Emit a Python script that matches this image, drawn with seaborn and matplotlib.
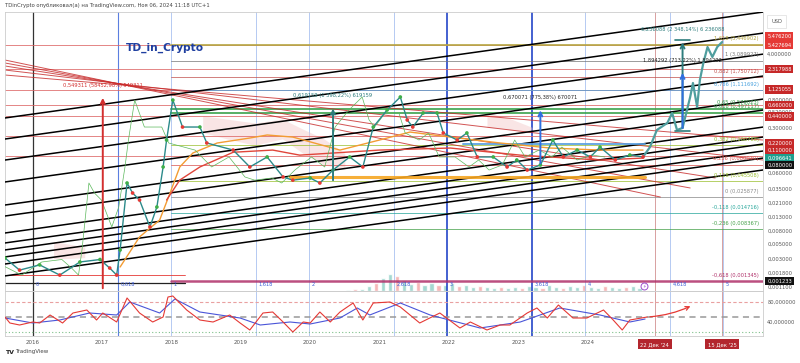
import numpy as np
import pandas as pd
import matplotlib
matplotlib.use("Agg")
import matplotlib.pyplot as plt
import seaborn as sns

# ---- price path (decimal year, USD) ----
price_t = [2015.60, 2015.81, 2016.10, 2016.39, 2016.68, 2016.97, 2017.11, 2017.21, 2017.26,
           2017.36, 2017.44, 2017.54, 2017.69, 2017.79, 2017.88, 2017.93, 2018.02, 2018.16,
           2018.41, 2018.51, 2018.89, 2019.13, 2019.38, 2019.61, 2019.75, 2020.00, 2020.14,
           2020.33, 2020.57, 2020.76, 2020.91, 2021.11, 2021.30, 2021.40, 2021.48, 2021.63,
           2021.83, 2021.92, 2022.12, 2022.26, 2022.41, 2022.64, 2022.84, 2022.98, 2023.13,
           2023.32, 2023.50, 2023.65, 2023.85, 2024.04, 2024.18, 2024.40, 2024.61, 2024.80]
price_p = [0.00306, 0.0020, 0.0024, 0.00168, 0.00266, 0.0029, 0.00215, 0.00168, 0.00405,
           0.0425, 0.0299, 0.0234, 0.0091, 0.0183, 0.0746, 0.192, 0.78, 0.303,
           0.303, 0.173, 0.135, 0.0746, 0.106, 0.0525, 0.047, 0.0507, 0.0425,
           0.067, 0.106, 0.0746, 0.303, 0.551, 0.869, 0.388, 0.303, 0.496,
           0.496, 0.246, 0.192, 0.246, 0.106, 0.106, 0.0746, 0.0953, 0.067,
           0.080, 0.192, 0.106, 0.135, 0.106, 0.150, 0.0953, 0.1136, 0.106]

# projected path (bars pattern) to Dec 2025
proj_t = [2024.80, 2024.90, 2025.00, 2025.15, 2025.22, 2025.29, 2025.37, 2025.48, 2025.52,
          2025.58, 2025.62, 2025.67, 2025.73, 2025.80, 2025.87, 2025.94]
proj_p = [0.106, 0.150, 0.273, 0.349, 0.496, 0.273, 0.293, 0.869, 1.42,
          0.612, 1.58, 2.87, 5.02, 3.54, 5.02, 5.98]

# moving averages
ema_orange_t = [2017.26, 2017.54, 2017.83, 2017.98, 2018.12, 2018.31, 2018.66, 2019.13, 2019.38,
                2019.75, 2020.43, 2021.00, 2021.44, 2022.02, 2022.74, 2023.46, 2024.18, 2024.80]
ema_orange_p = [0.00223, 0.0064, 0.0116, 0.0299, 0.0746, 0.122, 0.173, 0.206, 0.229,
                0.213, 0.135, 0.192, 0.254, 0.213, 0.173, 0.145, 0.135, 0.135]
ema_red_t = [2017.93, 2018.12, 2018.41, 2018.89, 2019.46, 2019.85, 2021.00, 2022.02, 2023.03, 2024.18, 2024.80]
ema_red_p = [0.0234, 0.0471, 0.0746, 0.125, 0.135, 0.113, 0.135, 0.145, 0.113, 0.095, 0.102]

# ichimoku cloud patches
cloud1_t = [2016.30, 2016.50, 2016.75]
cloud1_a = [0.0055, 0.0050, 0.0045]
cloud1_b = [0.0030, 0.0030, 0.0031]
cloud2_t = [2018.45, 2018.80, 2019.20, 2019.60, 2019.90, 2020.20, 2020.50]
cloud2_a = [0.45, 0.40, 0.35, 0.40, 0.28, 0.20, 0.12]
cloud2_b = [0.25, 0.20, 0.16, 0.20, 0.12, 0.08, 0.07]
cloud3_t = [2022.55, 2022.85, 2023.20]
cloud3_a = [0.50, 0.42, 0.30]
cloud3_b = [0.30, 0.28, 0.26]

# volume (relative units)
vol_t = [2020.55, 2020.65, 2020.75, 2020.85, 2020.95, 2021.05, 2021.15, 2021.25, 2021.35, 2021.45,
         2021.55, 2021.65, 2021.75, 2021.85, 2021.95, 2022.05, 2022.15, 2022.25, 2022.35, 2022.45,
         2022.55, 2022.65, 2022.75, 2022.85, 2022.95, 2023.05, 2023.15, 2023.25, 2023.35, 2023.45,
         2023.55, 2023.65, 2023.75, 2023.85, 2023.95, 2024.05, 2024.15, 2024.25, 2024.35, 2024.45,
         2024.55, 2024.65, 2024.75]
vol_v = [1, 2, 2, 5, 9, 14, 18, 16, 12, 8, 10, 7, 9, 6, 7, 9, 5, 6, 4, 5,
         4, 3, 4, 3, 4, 3, 5, 4, 3, 6, 4, 3, 5, 4, 6, 4, 3, 5, 4, 3, 4, 5, 3]

# rising channel lines: price at 2016.0, common slope (ln per year)
channel_p2016 = [0.477, 0.228, 0.109, 0.0505, 0.0225, 0.0153, 0.00843, 0.00594, 0.00465,
                 0.00364, 0.00284, 0.00187]
channel_slope = 0.34

# falling red trend lines: (start price at 2015.6, end year, end price)
red_start_p = [3.18, 2.865, 2.58, 2.24, 1.88]
red_end_t = [2025.05, 2025.48, 2025.84, 2026.53, 2026.53]
red_end_p = [0.0260, 0.0357, 0.0507, 0.0953, 0.192]

# fib retracement
fib_levels = ["1,618", "1", "0,882", "0,786", "0,65", "0,618", "0,382", "0,236", "0,118",
              "0", "-0,118", "-0,236", "-0,618"]
fib_prices = [5.446902, 3.089927, 1.750712, 1.111692, 0.579023, 0.497117, 0.160788, 0.080030,
              0.045508, 0.025877, 0.014716, 0.008367, 0.001345]
fib_colors = ["#b5a642", "#777777", "#c0504d", "#4aa3df", "#3aa14a", "#3aa14a", "#9bbf2f",
              "#d9534f", "#9bbf2f", "#888888", "#26a69a", "#43a047", "#b0306a"]

# fib time zones
fz_levels = [0, 0.618, 1, 1.618, 2, 2.618, 3, 3.618, 4, 4.618, 5]
fz_labels = ["0", "0,618", "1", "1,618", "2", "2,618", "3", "3,618", "4", "4,618", "5"]
fz_start, fz_period = 2016.0, 1.99

# horizontal levels with price labels on the scale
red_levels = [5.476200, 2.317988, 1.125055, 0.660000, 0.440000, 0.220000, 0.110000]
box_labels = ["5,476200", "5,427694", "2,317988", "1,125055", "0,660000", "0,440000",
              "0,220000", "0,110000", "0,096641", "0,080000", "0,001233"]
box_values = [5.476200, 5.427694, 2.317988, 1.125055, 0.660000, 0.440000,
              0.220000, 0.110000, 0.096641, 0.080000, 0.001233]
box_colors = ["#e53935"] * 2 + ["#c62828"] * 6 + ["#1e9e8e", "#111111", "#111111"]
box_nudge = [6, 0, 0, 0, 0, 0, -5, 4, 1, 0, 2]

ytick_vals = [4.0, 0.8, 0.52, 0.3, 0.18, 0.06, 0.035, 0.021, 0.013, 0.008, 0.005,
              0.003, 0.0018, 0.0011]

# price range measurements: (year, low, high, label, colour)
ranges = [
    (2017.01, 0.00096, 0.93, "0,549311 (58452,98%) 549311", "#d32f2f"),
    (2020.33, 0.0425, 0.64, "0,619159 (1 398,22%) 619159", "#2e7d7d"),
    (2023.32, 0.0765, 0.60, "0,670071 (775,38%) 670071", "#2f6fe0"),
    (2025.37, 0.2656, 6.50, "6,236088 (2 348,14%) 6 236088", "#2e7d7d"),
    (2025.37, 0.2656, 2.24, "1,894292 (713,22%) 1 894292", "#2f6fe0"),
]

# oscillator (RSI + average)
rsi_t = [2015.60, 2015.67, 2015.81, 2016.00, 2016.10, 2016.25, 2016.43, 2016.58, 2016.78,
         2016.92, 2017.01, 2017.21, 2017.36, 2017.54, 2017.73, 2017.88, 2017.95, 2018.02,
         2018.22, 2018.41, 2018.60, 2018.84, 2018.99, 2019.13, 2019.32, 2019.46, 2019.61,
         2019.75, 2019.90, 2020.00, 2020.14, 2020.29, 2020.43, 2020.62, 2020.76, 2020.91,
         2021.15, 2021.30, 2021.58, 2021.87, 2022.16, 2022.31, 2022.55, 2022.74, 2022.88,
         2023.13, 2023.27, 2023.42, 2023.58, 2023.79, 2023.99, 2024.23, 2024.37, 2024.50,
         2024.61, 2024.86]
rsi_v = [50, 38, 34, 40, 38, 54, 38, 58, 64, 44, 58, 40, 88, 58, 40, 50, 90, 92,
         64, 44, 40, 54, 38, 24, 58, 60, 40, 20, 40, 38, 60, 40, 60, 78, 44, 78,
         80, 70, 38, 58, 28, 40, 24, 34, 34, 58, 68, 48, 74, 48, 48, 64, 44, 24,
         44, 50]
rsi_ma_t = [2015.60, 2016.00, 2016.39, 2016.82, 2017.21, 2017.40, 2017.83, 2018.05, 2018.41,
            2018.99, 2019.28, 2019.71, 2020.00, 2020.43, 2020.68, 2020.86, 2021.30, 2021.73,
            2022.45, 2023.03, 2023.60, 2024.18, 2024.61, 2024.83]
rsi_ma_v = [48, 38, 44, 58, 54, 80, 58, 86, 60, 48, 34, 40, 36, 48, 68, 54, 78, 54,
            28, 40, 68, 54, 40, 46]

years = [2016, 2017, 2018, 2019, 2020, 2021, 2022, 2023, 2024]
date_marks = [2024.97, 2025.94]
date_labels = ["22 Дек '24", "15 Дек '25"]

# ------------------------------------------------------------
sns.set_theme(style="white")
plt.rcParams["font.family"] = ["DejaVu Sans"]

fig = plt.figure(figsize=(8, 3.63), dpi=100)
W, H = 800, 363
ax = fig.add_axes([5 / W, 1 - 291 / H, 758 / W, 279 / H])
vol = fig.add_axes([5 / W, 1 - 291 / H, 758 / W, 24 / H], sharex=ax)
osc = fig.add_axes([5 / W, 1 - 336 / H, 758 / W, 45 / H], sharex=ax)
ax.set_zorder(2)
ax.patch.set_alpha(0)
vol.set_zorder(1)

ax.set_yscale("log")
t_lo, t_hi = 2015.6, 2026.53
ax.set_xlim(t_lo, t_hi)
ax.set_ylim(0.000961, 17.15)

# volume
vdf = pd.DataFrame({"t": vol_t, "v": vol_v})
vdf["c"] = np.where(np.arange(len(vdf)) % 3 == 1, "#f4a5a5", "#8fd0c6")
vol.bar(vdf["t"], vdf["v"], width=0.06, color=vdf["c"], alpha=0.8)
vol.set_ylim(0, 26)
vol.axis("off")

# vertical fib time zones
for lvl, lab in zip(fz_levels, fz_labels):
    t = fz_start + lvl * fz_period
    if lvl == 0:
        c, lw = "#333333", 0.9
    elif lvl in (3, 3.618):
        c, lw = "#2446c8", 1.2
    elif lvl == 0.618:
        c, lw = "#5b7fe0", 0.8
    else:
        c, lw = "#a9c2f0", 0.6
    for a in (ax, osc):
        a.axvline(t, color=c, lw=lw, zorder=1)
    ax.text(t + 0.04, 0.00122, lab, color="#3b5bd6", fontsize=3.6, va="center", zorder=6)
for t in date_marks:
    for a in (ax, osc):
        a.axvline(t, color="#d8a0a0", lw=0.7, zorder=1)

# cloud
for ct, ca, cb in [(cloud1_t, cloud1_a, cloud1_b), (cloud2_t, cloud2_a, cloud2_b),
                   (cloud3_t, cloud3_a, cloud3_b)]:
    ax.fill_between(ct, ca, cb, color="#f3c6c6", alpha=0.45, lw=0, zorder=1)

# horizontal red levels
for p in red_levels:
    ax.axhline(p, color="#d66", lw=0.7, alpha=0.8, zorder=2)

# fib retracement lines and labels
for lab, p, c in zip(fib_levels, fib_prices, fib_colors):
    lw = 0.6
    if lab in ("0,65", "0,618", "1,618"):
        lw = 1.4
    if lab == "-0,618":
        lw = 1.8
    ax.plot([2018.0, t_hi], [p, p], color=c, lw=lw, alpha=0.85, zorder=2)
    ax.annotate(f"{lab} ({p:.6f})".replace(".", ","), xy=(2026.47, p), xytext=(0, 2.5),
                textcoords="offset points", ha="right", va="bottom", fontsize=3.7, color=c, zorder=6)
ax.plot([t_lo, 2018.2], [0.00128, 0.00128], color="#222", lw=0.9, zorder=2)
ax.plot([t_lo, 2018.2], [0.00168, 0.00168], color="#e53935", lw=0.6, zorder=2)

# red falling trend lines
for p0, t1, p1 in zip(red_start_p, red_end_t, red_end_p):
    ax.plot([t_lo, t1], [p0, p1], color="#c62828", lw=0.7, alpha=0.8, zorder=2)

# black channel lines
for p0 in channel_p2016:
    ys = [p0 * np.exp(channel_slope * (t - 2016)) for t in (t_lo, t_hi)]
    ax.plot([t_lo, t_hi], ys, color="black", lw=1.1, zorder=3)

# extra flat levels
ax.plot([2019.71, 2024.83], [0.0525, 0.0525], color="#f5a623", lw=2.2, alpha=0.9, zorder=3)
ax.plot([2022.2, 2024.83], [0.165, 0.165], color="#5aa0e0", lw=1.4, alpha=0.9, zorder=3)

# moving averages + lagging span
sns.lineplot(x=ema_orange_t, y=ema_orange_p, ax=ax, color="#f39c33", lw=1.0, sort=False,
             estimator=None, zorder=4)
sns.lineplot(x=ema_red_t, y=ema_red_p, ax=ax, color="#e0453a", lw=1.0, sort=False,
             estimator=None, zorder=4)
lag = pd.DataFrame({"t": np.array(price_t) - 0.55, "p": price_p})
sns.lineplot(data=lag, x="t", y="p", ax=ax, color="#5cb85c", lw=0.5, sort=False,
             estimator=None, zorder=4)

# price
px = pd.DataFrame({"t": price_t, "p": price_p})
px["dir"] = np.where(px["p"].diff().fillna(0) >= 0, "up", "down")
sns.lineplot(data=px, x="t", y="p", ax=ax, color="#2b8a8a", lw=1.0, sort=False,
             estimator=None, zorder=5)
sns.scatterplot(data=px, x="t", y="p", hue="dir", palette={"up": "#3fae49", "down": "#e53935"},
                ax=ax, s=7, linewidth=0, legend=False, zorder=6)
sns.lineplot(x=proj_t, y=proj_p, ax=ax, color="#4f9e9e", lw=1.6, sort=False,
             estimator=None, zorder=5)

# price range tools
for t, lo, hi, lab, c in ranges:
    ax.annotate("", xy=(t, hi), xytext=(t, lo),
                arrowprops=dict(arrowstyle="->", color=c, lw=1.4, mutation_scale=7), zorder=7)
    ax.annotate(lab, xy=(t, hi), xytext=(0, 6), textcoords="offset points", ha="center",
                fontsize=3.7, color=c if c != "#2f6fe0" else "#222", zorder=8)
ax.plot([2025.26, 2025.48], [6.5, 6.5], color="#2e7d7d", lw=1.2, zorder=7)
ax.plot([2025.26, 2025.48], [0.2656, 0.2656], color="#2e7d7d", lw=1.2, zorder=7)

ax.text(2017.35, 4.85, "TD_in_Crypto", color="#1f3fa0", fontsize=7.7, fontweight="bold",
        va="center", zorder=8)
ax.plot([2024.82], [0.00115], marker="o", ms=5, mfc="white", mec="#9c4dcc", mew=0.7, zorder=8)
ax.text(2024.82, 0.00115, "⚡", fontsize=3.5, color="#9c4dcc", ha="center", va="center", zorder=9)

# right price scale
ax.yaxis.tick_right()
ax.set_yticks(ytick_vals)
ax.set_yticklabels([f"{v:.6f}".replace(".", ",") for v in ytick_vals])
ax.yaxis.set_minor_locator(matplotlib.ticker.NullLocator())
ax.tick_params(axis="y", length=0, labelsize=3.7, labelcolor="#555", pad=3)
ax.tick_params(axis="x", length=0, labelbottom=False)
ax.set_xlabel("")
ax.set_ylabel("")
for lab, v, c, dy in zip(box_labels, box_values, box_colors, box_nudge):
    ax.annotate(lab, xy=(1, v), xycoords=ax.get_yaxis_transform(), xytext=(3, dy),
                textcoords="offset points", fontsize=3.7, color="white", va="center",
                bbox=dict(boxstyle="square,pad=0.35", fc=c, ec="none"), annotation_clip=False, zorder=9)
ax.annotate("USD", xy=(1, 1), xycoords="axes fraction", xytext=(6, -7), textcoords="offset points",
            fontsize=3.7, color="#555", va="center",
            bbox=dict(boxstyle="square,pad=0.8", fc="white", ec="#ddd", lw=0.5), annotation_clip=False)

# oscillator
osc.set_ylim(12, 102)
for lvl, c, ls in [(80, "#e9a0a0", (0, (3, 2))), (50, "#999999", (0, (4, 3))), (20, "#7fc08a", (0, (1, 2)))]:
    osc.axhline(lvl, color=c, lw=0.8 if lvl != 50 else 1.1, ls=ls, zorder=1)
sns.lineplot(x=rsi_ma_t, y=rsi_ma_v, ax=osc, color="#4a55d8", lw=0.8, sort=False, estimator=None, zorder=3)
sns.lineplot(x=rsi_t, y=rsi_v, ax=osc, color="#e53935", lw=0.8, sort=False, estimator=None, zorder=4)
osc.annotate("", xy=(2025.52, 74), xytext=(2024.86, 50),
             arrowprops=dict(arrowstyle="->", color="#e53935", lw=0.9, mutation_scale=7,
                             connectionstyle="arc3,rad=0.1"))
osc.yaxis.tick_right()
osc.set_yticks([80, 40])
osc.set_yticklabels(["80,000000", "40,000000"])
osc.tick_params(axis="y", length=0, labelsize=3.7, labelcolor="#555", pad=3)
osc.set_xticks(years)
osc.set_xticklabels([str(y) for y in years])
osc.tick_params(axis="x", length=0, labelsize=4.0, labelcolor="#555", pad=3)
osc.set_xlabel("")
osc.set_ylabel("")
for t, lab in zip(date_marks, date_labels):
    osc.annotate(lab, xy=(t, 0), xycoords=osc.get_xaxis_transform(), xytext=(0, -6),
                 textcoords="offset points", ha="center", va="center", fontsize=3.8, color="white",
                 bbox=dict(boxstyle="square,pad=0.5", fc="#b3262e", ec="none"), annotation_clip=False)

for a in (ax, osc):
    for s in a.spines.values():
        s.set_color("#cccccc")
        s.set_linewidth(0.6)

fig.text(5 / W, 1 - 6 / H, "TDinCrypto опубликовал(а) на TradingView.com, Ноя 06, 2024 11:18 UTC+1",
         fontsize=3.8, color="#444", va="center")
fig.text(5 / W, 1 - 352 / H, "TV", fontsize=4.5, fontweight="bold", color="#222", va="center")
fig.text(15 / W, 1 - 352 / H, "TradingView", fontsize=4.0, color="#444", va="center")

fig.savefig("out.png", dpi=100)
